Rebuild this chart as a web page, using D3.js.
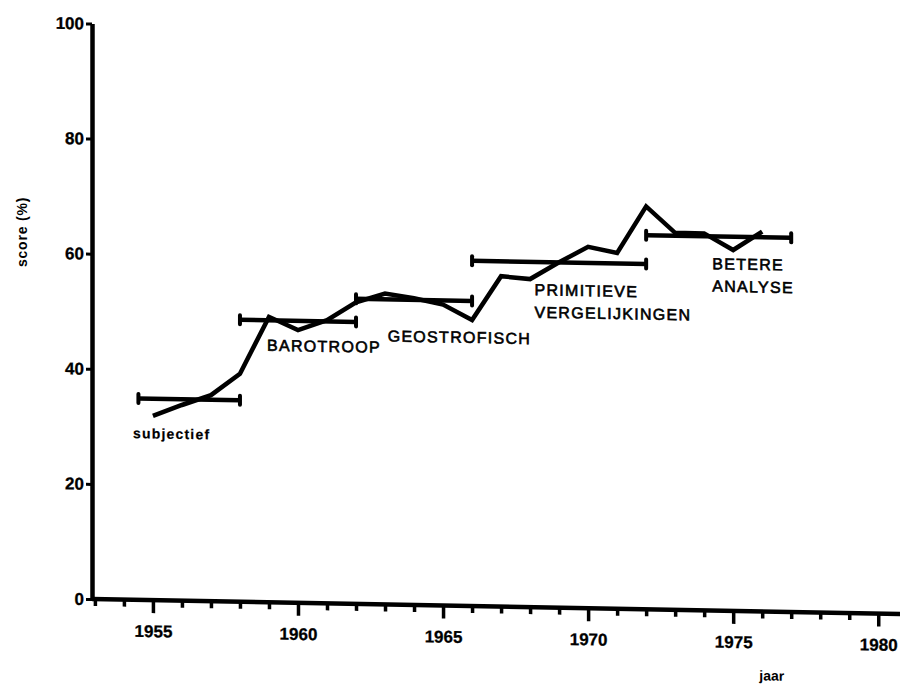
<!DOCTYPE html>
<html>
<head>
<meta charset="utf-8">
<script src="https://cdn.jsdelivr.net/npm/d3@7/dist/d3.min.js"></script>
<style>
	body { margin: 0; background: #fff; }
	svg { display: block; font-family: "Liberation Sans", Arial, Helvetica, sans-serif; }
	.axis path, .axis line { stroke: #000; }
	.axis text { fill: #000; }
</style>
</head>
<body>
<svg id="chart" width="900" height="684"></svg>
<script>
// score per jaar
const years = [1955, 1956, 1957, 1958, 1959, 1960, 1961, 1962, 1963, 1964, 1965,
	1966, 1967, 1968, 1969, 1970, 1971, 1972, 1973, 1974, 1975, 1976];
const scores = [32, 34, 35.8, 39.6, 49.6, 47.4, 49.2, 52.4, 54, 53.3, 52.3,
	49.7, 57.4, 57, 60, 62.8, 61.8, 70, 65.5, 65.5, 62.7, 66];

// perioden met gemiddelde score
const periodStart = [1954.5, 1958, 1962, 1966, 1972];
const periodEnd = [1958, 1962, 1966, 1972, 1977];
const periodScore = [35, 49, 53, 60, 65];

// namen van de perioden, met ankerpunt (jaar, score) van de tekst
const periodLabels = [["subjectief"], ["BAROTROOP"], ["GEOSTROFISCH"],
	["PRIMITIEVE", "VERGELIJKINGEN"], ["BETERE", "ANALYSE"]];
const labelYear = [1954.31, 1958.93, 1963.09, 1968.15, 1974.28];
const labelScore = [28.1, 43.7, 45.7, 54.2, 59.3];

// assen
const yTicks = [0, 20, 40, 60, 80, 100];
const majorYears = [1955, 1960, 1965, 1970, 1975, 1980];
const minorYears = d3.range(1953, 1981).filter(y => !majorYears.includes(y));

let svg = d3.select("#chart");
let left = 92;
let skew = 1.06;	// de scan loopt licht scheef af naar rechts

let x = d3.scaleLinear().domain([1952.9, 1980.75]).range([0, 808]);
let y = d3.scaleLinear().domain([0, 100]).range([599, 23.5]);

let g = svg.append("g")
	.attr("transform", "translate(" + left + ",0) skewY(" + skew + ")");

/* ------------------------ AXES ------------------------ */

let yAxis = g.append("g")
	.attr("class", "axis")
	.call(d3.axisLeft(y).tickValues(yTicks).tickSize(6).tickSizeOuter(0).tickPadding(2));
yAxis.select(".domain").attr("stroke-width", 4.5);
yAxis.selectAll(".tick line").attr("stroke-width", 3);
yAxis.selectAll(".tick text")
	.attr("font-size", 17)
	.attr("font-weight", "bold")
	.attr("stroke", "#000")
	.attr("stroke-width", 0.3);

g.append("line")
	.attr("x1", 0)
	.attr("x2", 808)
	.attr("y1", y(0))
	.attr("y2", y(0))
	.attr("stroke", "#000")
	.attr("stroke-width", 4.5);

let minorAxis = g.append("g")
	.attr("class", "axis")
	.attr("transform", "translate(0," + y(0) + ")")
	.call(d3.axisBottom(x).tickValues(minorYears).tickSize(7).tickFormat(""));
minorAxis.select(".domain").remove();
minorAxis.selectAll(".tick line").attr("stroke-width", 3.5);

let majorAxis = g.append("g")
	.attr("class", "axis")
	.attr("transform", "translate(0," + y(0) + ")")
	.call(d3.axisBottom(x).tickValues(majorYears).tickSize(13).tickPadding(12).tickFormat(d3.format("d")));
majorAxis.select(".domain").remove();
majorAxis.selectAll(".tick line").attr("stroke-width", 3.5);
majorAxis.selectAll(".tick text")
	.attr("font-size", 17)
	.attr("font-weight", "bold")
	.attr("stroke", "#000")
	.attr("stroke-width", 0.3);

g.append("text")
	.attr("x", x(1975.9))
	.attr("y", y(0) + 69)
	.attr("font-size", 14)
	.attr("font-weight", "bold")
	.text("jaar");

svg.append("text")
	.attr("transform", "translate(27," + 232 + ") rotate(-90)")
	.attr("text-anchor", "middle")
	.attr("font-size", 14)
	.attr("font-weight", "bold")
	.attr("letter-spacing", 0.8)
	.text("score (%)");

/* ----------------------- PERIODS ---------------------- */

let periods = periodScore.map(function (s, i) {
	return { start: periodStart[i], end: periodEnd[i], score: s };
});

g.selectAll(".period")
	.data(periods)
	.enter().append("line")
	.attr("class", "period")
	.attr("x1", function (d) { return x(d.start); })
	.attr("x2", function (d) { return x(d.end); })
	.attr("y1", function (d) { return y(d.score); })
	.attr("y2", function (d) { return y(d.score); })
	.attr("stroke", "#000")
	.attr("stroke-width", 4.5);

let caps = [];
periods.forEach(function (d) {
	caps.push({ year: d.start, score: d.score });
	caps.push({ year: d.end, score: d.score });
});

g.selectAll(".cap")
	.data(caps)
	.enter().append("line")
	.attr("class", "cap")
	.attr("x1", function (d) { return x(d.year); })
	.attr("x2", function (d) { return x(d.year); })
	.attr("y1", function (d) { return y(d.score) - 4.5; })
	.attr("y2", function (d) { return y(d.score) + 4.5; })
	.attr("stroke", "#000")
	.attr("stroke-width", 4)
	.attr("stroke-linecap", "round");

/* ------------------------ LINE ------------------------ */

let line = d3.line()
	.x(function (d, i) { return x(years[i]); })
	.y(function (d) { return y(d); });

g.append("path")
	.datum(scores)
	.attr("d", line)
	.attr("fill", "none")
	.attr("stroke", "#000")
	.attr("stroke-width", 4.5)
	.attr("stroke-linejoin", "miter");

/* ----------------------- LABELS ----------------------- */

let labels = g.selectAll(".label")
	.data(periodLabels)
	.enter().append("text")
	.attr("class", "label")
	.attr("x", function (d, i) { return x(labelYear[i]); })
	.attr("y", function (d, i) { return y(labelScore[i]); })
	.attr("font-size", function (d, i) { return i == 0 ? 14 : 16; })
	.attr("font-weight", function (d, i) { return i == 0 ? "bold" : "normal"; })
	.attr("letter-spacing", function (d, i) { return i == 0 ? 1.2 : 1.3; })
	.attr("stroke", "#000")
	.attr("stroke-width", function (d, i) { return i == 0 ? 0.2 : 0.6; });

labels.selectAll("tspan")
	.data(function (d) { return d; })
	.enter().append("tspan")
	.attr("x", function () { return d3.select(this.parentNode).attr("x"); })
	.attr("dy", function (d, j) { return j == 0 ? 0 : "1.4em"; })
	.text(function (d) { return d; });
</script>
</body>
</html>
